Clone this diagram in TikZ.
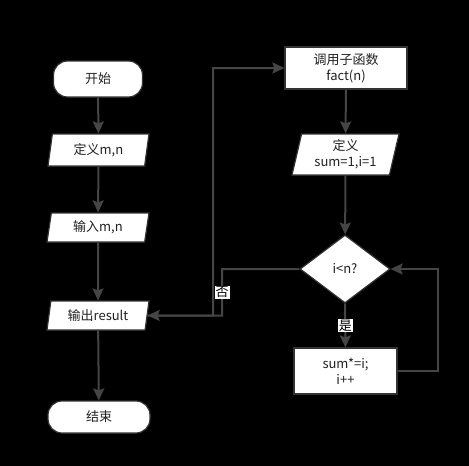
\documentclass[tikz,border=0pt]{standalone}
\usepackage{fontspec}
\setmainfont{Noto Sans CJK SC}
\usetikzlibrary{shapes.geometric,arrows.meta}
\definecolor{ln}{HTML}{454545}
\definecolor{bd}{HTML}{333333}
\definecolor{tx}{HTML}{222222}
\begin{document}
\begin{tikzpicture}[x=1pt,y=-1pt,
 box/.style={draw=bd,fill=white,line width=1.2pt,inner sep=0pt,align=center,font=\fontsize{13}{16}\selectfont,text=tx},
 term/.style={box,rectangle,rounded corners=14pt},
 io/.style={box,trapezium,trapezium left angle=72,trapezium right angle=108,trapezium stretches body},
 proc/.style={box,rectangle},
 dec/.style={box,diamond},
 flow/.style={draw=ln,line width=2pt,-{Stealth[length=12pt,width=11pt,inset=2pt]}},
 lbl/.style={fill=white,text=black,inner sep=1pt,font=\fontsize{13}{13}\selectfont}]
\fill[black] (0,0) rectangle (469,466);
\useasboundingbox (0,0) rectangle (469,466);
\node[term,minimum width=89pt,minimum height=36pt] (start) at (98,79) {开始};
\node[io,minimum width=101pt,minimum height=32pt] (def1) at (98.5,150) {定义m,n};
\node[io,minimum width=102pt,minimum height=29pt] (inp) at (98,227.5) {输入m,n};
\node[io,minimum width=102pt,minimum height=29pt] (out) at (98,315.5) {输出result};
\node[term,minimum width=102pt,minimum height=32pt] (end) at (99,417) {结束};
\node[proc,minimum width=122pt,minimum height=42pt] (fact) at (346,68) {调用子函数\\fact(n)};
\node[io,minimum width=107pt,minimum height=41pt] (def2) at (345.5,154.5) {定义\\sum=1,i=1};
\node[dec,minimum width=90pt,minimum height=68pt] (dec) at (345,269) {i<n?};
\node[proc,minimum width=103pt,minimum height=46pt] (sum) at (345.5,371) {sum*=i;\\i++};
\coordinate (cj) at (213,315.5);
\coordinate (nj) at (222,315.5);
\coordinate (rr) at (438,269);
\draw[flow] (start) -- (def1);
\draw[flow] (def1) -- (inp);
\draw[flow] (inp) -- (out);
\draw[flow] (out) -- (end);
\draw[flow] (fact) -- (def2);
\draw[flow] (def2) -- (dec);
\draw[flow] (dec) -- node[lbl] {是} (sum);
\draw[flow] (sum.east) -| (rr) -- (dec.east);
\draw[flow] (out.east) -- (cj) |- (fact.west);
\draw[flow] (dec.west) -| node[lbl,pos=0.75] {否} (nj) -- (out.east);
\end{tikzpicture}
\end{document}
